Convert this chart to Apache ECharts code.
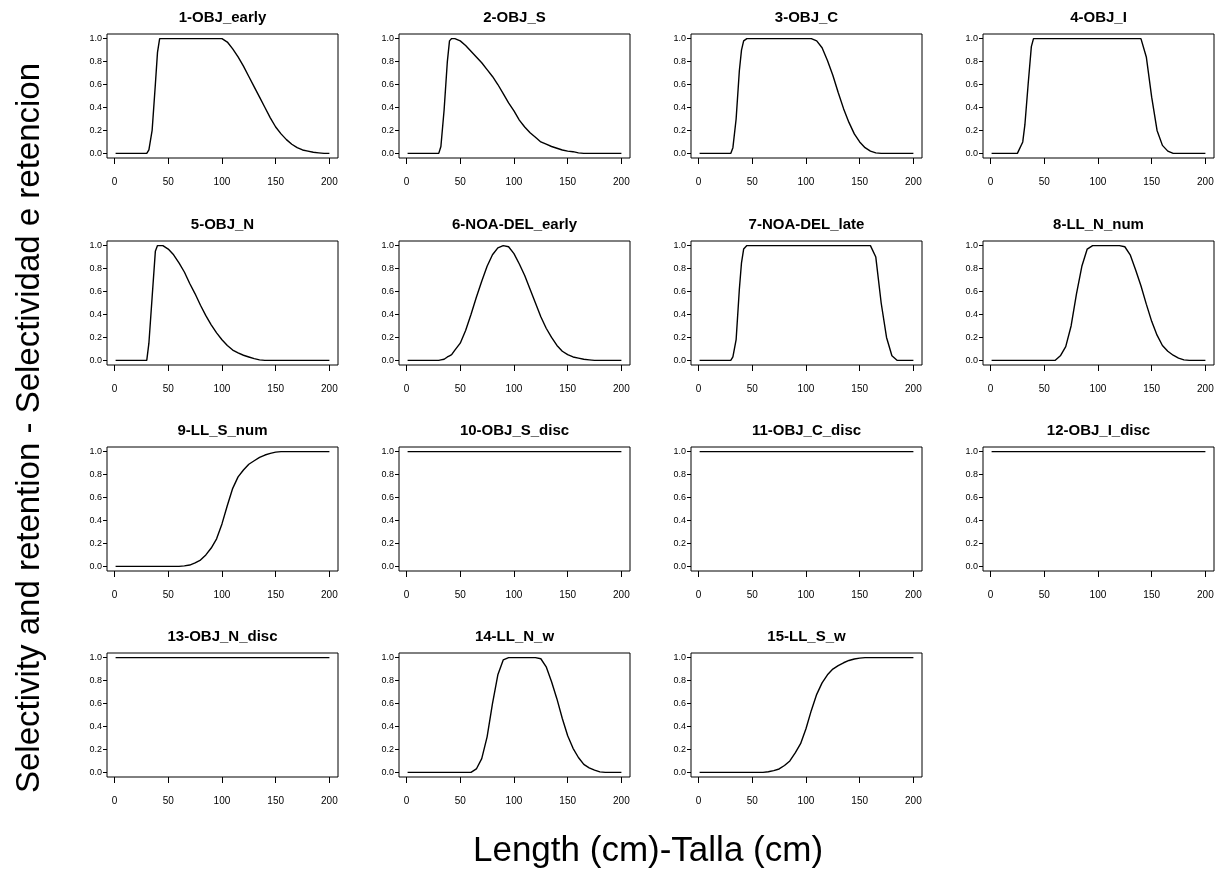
<!DOCTYPE html>
<html>
<head>
<meta charset="utf-8">
<title>Selectivity and retention</title>
<script src="https://cdn.jsdelivr.net/npm/echarts@6/dist/echarts.min.js"></script>
<style>
  html, body { margin: 0; padding: 0; background: #ffffff; }
  #chart { width: 1225px; height: 879px; }
</style>
</head>
<body>
<div id="chart"></div>
<script>
// Fleet names, one small panel each
const fleets = [
  '1-OBJ_early', '2-OBJ_S', '3-OBJ_C', '4-OBJ_I',
  '5-OBJ_N', '6-NOA-DEL_early', '7-NOA-DEL_late', '8-LL_N_num',
  '9-LL_S_num', '10-OBJ_S_disc', '11-OBJ_C_disc', '12-OBJ_I_disc',
  '13-OBJ_N_disc', '14-LL_N_w', '15-LL_S_w'
];

// Length classes (cm)
const lengths = [1, 5, 10, 15, 20, 25, 30, 32, 35, 38, 40, 42, 45,
  50, 55, 60, 65, 70, 75, 80, 85, 90, 95, 100,
  105, 110, 115, 120, 125, 130, 135, 140, 145, 150, 155, 160, 165, 170, 175, 180, 185, 190, 195, 200];

// Selectivity / retention at each length class
const objEarly = [0, 0, 0, 0, 0, 0, 0, 0.03, 0.2, 0.6, 0.88, 1, 1,
  1, 1, 1, 1, 1, 1, 1, 1, 1, 1, 1,
  0.97, 0.91, 0.84, 0.76, 0.67, 0.58, 0.49, 0.40, 0.31, 0.23, 0.17, 0.12, 0.08, 0.05, 0.03, 0.02, 0.01, 0.005, 0, 0];
const objS = [0, 0, 0, 0, 0, 0, 0, 0.06, 0.38, 0.8, 0.98, 1, 1,
  0.98, 0.94, 0.89, 0.84, 0.79, 0.73, 0.67, 0.60, 0.52, 0.44, 0.37,
  0.29, 0.23, 0.18, 0.14, 0.10, 0.08, 0.06, 0.045, 0.03, 0.02, 0.015, 0.005, 0, 0, 0, 0, 0, 0, 0, 0];
const objC = [0, 0, 0, 0, 0, 0, 0, 0.05, 0.3, 0.72, 0.9, 0.98, 1,
  1, 1, 1, 1, 1, 1, 1, 1, 1, 1, 1,
  1, 0.98, 0.92, 0.81, 0.68, 0.53, 0.39, 0.27, 0.17, 0.10, 0.05, 0.02, 0.005, 0, 0, 0, 0, 0, 0, 0];
const objI = [0, 0, 0, 0, 0, 0, 0.1, 0.25, 0.6, 0.93, 1, 1, 1,
  1, 1, 1, 1, 1, 1, 1, 1, 1, 1, 1,
  1, 1, 1, 1, 1, 1, 1, 1, 0.84, 0.49, 0.2, 0.07, 0.02, 0, 0, 0, 0, 0, 0, 0];
const objN = [0, 0, 0, 0, 0, 0, 0, 0.15, 0.55, 0.95, 1, 1, 1,
  0.97, 0.92, 0.85, 0.77, 0.67, 0.58, 0.48, 0.39, 0.31, 0.24, 0.18,
  0.13, 0.09, 0.065, 0.045, 0.03, 0.015, 0.005, 0, 0, 0, 0, 0, 0, 0, 0, 0, 0, 0, 0, 0];
const noaDelEarly = [0, 0, 0, 0, 0, 0, 0, 0.005, 0.01, 0.03, 0.04, 0.05, 0.09,
  0.15, 0.26, 0.4, 0.55, 0.69, 0.82, 0.92, 0.98, 1.0, 0.99, 0.93,
  0.84, 0.74, 0.62, 0.5, 0.38, 0.28, 0.2, 0.13, 0.08, 0.05, 0.03, 0.02, 0.01, 0.005, 0, 0, 0, 0, 0, 0];
const noaDelLate = [0, 0, 0, 0, 0, 0, 0, 0.03, 0.18, 0.62, 0.85, 0.97, 1,
  1, 1, 1, 1, 1, 1, 1, 1, 1, 1, 1,
  1, 1, 1, 1, 1, 1, 1, 1, 1, 1, 1, 1, 0.9, 0.5, 0.2, 0.04, 0, 0, 0, 0];
const llNNum = [0, 0, 0, 0, 0, 0, 0, 0, 0, 0, 0, 0, 0,
  0, 0, 0, 0.04, 0.12, 0.3, 0.58, 0.82, 0.97, 1, 1,
  1, 1, 1, 1, 0.99, 0.92, 0.79, 0.65, 0.49, 0.34, 0.22, 0.13, 0.08, 0.045, 0.02, 0.005, 0, 0, 0, 0];
const llSNum = [0, 0, 0, 0, 0, 0, 0, 0, 0, 0, 0, 0, 0,
  0, 0, 0, 0.005, 0.012, 0.03, 0.055, 0.1, 0.16, 0.24, 0.37,
  0.53, 0.68, 0.78, 0.84, 0.89, 0.92, 0.95, 0.97, 0.985, 0.995, 1, 1, 1, 1, 1, 1, 1, 1, 1, 1];
const objSDisc = [1, 1, 1, 1, 1, 1, 1, 1, 1, 1, 1, 1, 1,
  1, 1, 1, 1, 1, 1, 1, 1, 1, 1, 1,
  1, 1, 1, 1, 1, 1, 1, 1, 1, 1, 1, 1, 1, 1, 1, 1, 1, 1, 1, 1];
const objCDisc = [1, 1, 1, 1, 1, 1, 1, 1, 1, 1, 1, 1, 1,
  1, 1, 1, 1, 1, 1, 1, 1, 1, 1, 1,
  1, 1, 1, 1, 1, 1, 1, 1, 1, 1, 1, 1, 1, 1, 1, 1, 1, 1, 1, 1];
const objIDisc = [1, 1, 1, 1, 1, 1, 1, 1, 1, 1, 1, 1, 1,
  1, 1, 1, 1, 1, 1, 1, 1, 1, 1, 1,
  1, 1, 1, 1, 1, 1, 1, 1, 1, 1, 1, 1, 1, 1, 1, 1, 1, 1, 1, 1];
const objNDisc = [1, 1, 1, 1, 1, 1, 1, 1, 1, 1, 1, 1, 1,
  1, 1, 1, 1, 1, 1, 1, 1, 1, 1, 1,
  1, 1, 1, 1, 1, 1, 1, 1, 1, 1, 1, 1, 1, 1, 1, 1, 1, 1, 1, 1];
const llNW = [0, 0, 0, 0, 0, 0, 0, 0, 0, 0, 0, 0, 0,
  0, 0, 0, 0.03, 0.12, 0.31, 0.6, 0.85, 0.98, 1, 1,
  1, 1, 1, 1, 0.99, 0.92, 0.79, 0.64, 0.47, 0.32, 0.21, 0.13, 0.07, 0.04, 0.02, 0.005, 0, 0, 0, 0];
const llSW = [0, 0, 0, 0, 0, 0, 0, 0, 0, 0, 0, 0, 0,
  0, 0, 0, 0.006, 0.015, 0.03, 0.06, 0.1, 0.17, 0.25, 0.38,
  0.54, 0.68, 0.78, 0.85, 0.9, 0.93, 0.955, 0.975, 0.988, 0.995, 1, 1, 1, 1, 1, 1, 1, 1, 1, 1];

const curves = [objEarly, objS, objC, objI, objN, noaDelEarly, noaDelLate, llNNum,
  llSNum, objSDisc, objCDisc, objIDisc, objNDisc, llNW, llSW];

// Axis ticks
const xTicks = [0, 50, 100, 150, 200];
const yTicks = [0, 0.2, 0.4, 0.6, 0.8, 1.0];

// Panel layout (pixels)
const colLeft = [107, 399, 691, 983];
const rowTop = [34, 241, 447, 653];
const boxW = 231, boxH = 124;
const FONT = "'Liberation Sans', Arial, sans-serif";

const grids = [], xAxes = [], yAxes = [], series = [], titles = [];
fleets.forEach((name, i) => {
  const c = i % 4, r = Math.floor(i / 4);
  const left = colLeft[c], top = rowTop[r];
  grids.push({
    left: left, top: top, width: boxW, height: boxH,
    show: true, borderColor: '#000', borderWidth: 1, backgroundColor: 'transparent',
    containLabel: false
  });
  xAxes.push({
    type: 'value', gridIndex: i, min: -7, max: 208, position: 'bottom',
    splitLine: { show: false },
    axisLine: { show: false, onZero: false },
    axisTick: { show: true, inside: false, length: 6, customValues: xTicks,
      lineStyle: { color: '#000', width: 1 } },
    axisLabel: { show: true, customValues: xTicks, margin: 19, color: '#000',
      fontSize: 10, fontFamily: FONT }
  });
  yAxes.push({
    type: 'value', gridIndex: i, min: -0.04, max: 1.04, position: 'left',
    splitLine: { show: false },
    axisLine: { show: false, onZero: false },
    axisTick: { show: true, inside: false, length: 4, customValues: yTicks,
      lineStyle: { color: '#000', width: 1 } },
    axisLabel: { show: true, customValues: yTicks, margin: 5, color: '#000',
      fontSize: 9, fontFamily: FONT,
      formatter: v => Number(v).toFixed(1) }
  });
  series.push({
    type: 'line', name: name, xAxisIndex: i, yAxisIndex: i,
    data: lengths.map((len, k) => [len, curves[i][k]]),
    showSymbol: false, symbol: 'none', smooth: false,
    lineStyle: { color: '#000', width: 1.4 },
    silent: true
  });
  titles.push({
    text: name, left: left + boxW / 2, top: top - 24, textAlign: 'center', padding: 0,
    textStyle: { color: '#000', fontSize: 15, fontWeight: 'bold', fontFamily: FONT }
  });
});

const chart = echarts.init(document.getElementById('chart'), null, { renderer: 'canvas' });
chart.setOption({
  backgroundColor: '#ffffff',
  animation: false,
  title: titles,
  grid: grids,
  xAxis: xAxes,
  yAxis: yAxes,
  series: series,
  graphic: [
    {
      type: 'text', x: 30, y: 428, rotation: Math.PI / 2,
      style: {
        text: 'Selectivity and retention - Selectividad e retencion',
        fill: '#000', font: "33px 'Liberation Sans', Arial, sans-serif",
        textAlign: 'center', textVerticalAlign: 'middle'
      }
    },
    {
      type: 'text', x: 648, y: 851,
      style: {
        text: 'Length (cm)-Talla (cm)',
        fill: '#000', font: "35px 'Liberation Sans', Arial, sans-serif",
        textAlign: 'center', textVerticalAlign: 'middle'
      }
    }
  ]
});
</script>
</body>
</html>
